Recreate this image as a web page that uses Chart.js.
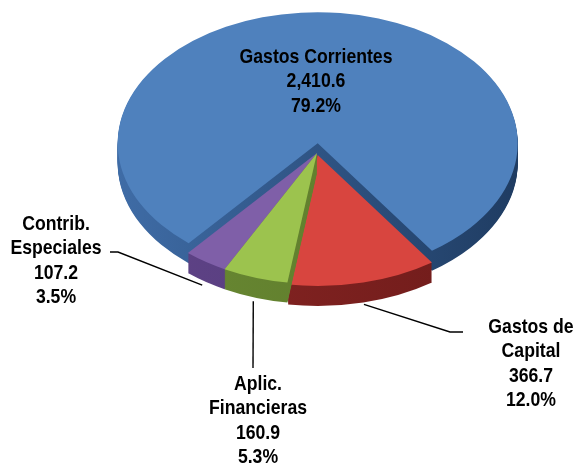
<!DOCTYPE html>
<html><head><meta charset="utf-8">
<script src="https://cdn.jsdelivr.net/npm/chart.js@4/dist/chart.umd.min.js"></script>
<style>html,body{margin:0;padding:0;background:#fff;}#wrap{width:577px;height:465px;position:relative}</style>
</head><body><div id="wrap"><canvas id="c" width="577" height="465"></canvas></div>
<script>
// ---- data ----
const categories = ['Gastos Corrientes', 'Gastos de Capital', 'Aplic. Financieras', 'Contrib. Especiales'];
const nameLines = [['Gastos Corrientes'], ['Gastos de', 'Capital'], ['Aplic.', 'Financieras'], ['Contrib.', 'Especiales']];
const values = [2410.6, 366.7, 160.9, 107.2];
const valueLabels = ['2,410.6', '366.7', '160.9', '107.2'];
const percentLabels = ['79.2%', '12.0%', '5.3%', '3.5%'];

// ---- style ----
const topColors = ['#4f81bd', '#d8453f', '#9cc34e', '#7f5fa8'];
const sideLeft = ['#3f6ca6', '#8a2624', '#6a8a34', '#5f4387'];
const sideRight = ['#1f3c62', '#6e1b1a', '#5a7628', '#513977'];
const sliceOffsets = [15, 3, 0, 0];
const K = 0.655;      // vertical squash of the pie
const DEPTH = 20;     // thickness in px
const CX = 317, CY = 153;
const drawOrder = [0, 3, 1, 2];

// label layout (screen positions): center x, first baseline, elbow points of leader
const labelLayout = [
  { x: 316, y: 63, leader: null },
  { x: 531, y: 333, leader: [[450, 332], [463, 332]] },
  { x: 258, y: 390, leader: [[253, 368]] },
  { x: 56, y: 230, leader: [[118, 252], [110, 252]] }
];
const LINE_H = 24.3;

function toScreen(p, x, y) { return [CX + (x - p.x), CY + (y - p.y) * K]; }

const pie3d = {
  id: 'pie3d',
  beforeDatasetsDraw(chart) {
    const ctx = chart.ctx;
    const arcs = chart.getDatasetMeta(0).data;
    drawOrder.forEach(i => {
      const a = arcs[i];
      const p = a.getProps(['x', 'y', 'startAngle', 'endAngle', 'outerRadius'], true);
      const off = a.options.offset || 0;
      const mid = (p.startAngle + p.endAngle) / 2;
      const ox = Math.cos(mid) * off, oy = Math.sin(mid) * off;
      const g = ctx.createLinearGradient(CX - p.outerRadius, 0, CX + p.outerRadius, 0);
      g.addColorStop(0, sideLeft[i]);
      g.addColorStop(1, sideRight[i]);
      for (let d = DEPTH; d >= 0; d--) {
        ctx.save();
        ctx.translate(CX, CY + d);
        ctx.scale(1, K);
        ctx.translate(-p.x, -p.y);
        ctx.beginPath();
        ctx.moveTo(p.x + ox, p.y + oy);
        ctx.arc(p.x + ox, p.y + oy, p.outerRadius, p.startAngle, p.endAngle);
        ctx.closePath();
        ctx.restore();
        ctx.fillStyle = d === 0 ? topColors[i] : g;
        ctx.fill();
      }
    });
    return false;
  }
};

let fontSpec = null;
function pickFont(ctx) {
  if (fontSpec) return fontSpec;
  ctx.font = 'bold 21px "Liberation Sans Narrow", monospace';
  const w1 = ctx.measureText('Gastos Corrientes').width;
  ctx.font = 'bold 21px monospace';
  const w2 = ctx.measureText('Gastos Corrientes').width;
  if (Math.abs(w1 - w2) > 0.5) fontSpec = { font: 'bold 21px "Liberation Sans Narrow"', sx: 1.02 };
  else fontSpec = { font: 'bold 21px "Liberation Sans", Arial, sans-serif', sx: 0.84 };
  return fontSpec;
}

const labels = {
  id: 'labels3d',
  afterDraw(chart) {
    const ctx = chart.ctx;
    const arcs = chart.getDatasetMeta(0).data;
    const fs = pickFont(ctx);
    arcs.forEach((a, i) => {
      const L = labelLayout[i];
      const p = a.getProps(['x', 'y', 'startAngle', 'endAngle', 'outerRadius'], true);
      if (L.leader) {
        const mid = (p.startAngle + p.endAngle) / 2;
        const r = p.outerRadius + 6;
        const s = toScreen(p, p.x + Math.cos(mid) * r, p.y + Math.sin(mid) * r);
        ctx.save();
        ctx.strokeStyle = '#000';
        ctx.lineWidth = 1.4;
        ctx.beginPath();
        ctx.moveTo(s[0], s[1] + DEPTH);
        L.leader.forEach(q => ctx.lineTo(q[0], q[1]));
        ctx.stroke();
        ctx.restore();
      }
      const lines = nameLines[i].concat([valueLabels[i], percentLabels[i]]);
      ctx.save();
      ctx.font = fs.font;
      ctx.fillStyle = '#000';
      ctx.textAlign = 'center';
      ctx.textBaseline = 'alphabetic';
      lines.forEach((t, j) => {
        ctx.save();
        ctx.translate(L.x, L.y + j * LINE_H);
        ctx.scale(fs.sx, 1);
        ctx.fillText(t, 0, 0);
        ctx.restore();
      });
      ctx.restore();
    });
  }
};

new Chart(document.getElementById('c'), {
  type: 'pie',
  data: {
    labels: categories,
    datasets: [{ data: values, backgroundColor: topColors, borderWidth: 0, offset: sliceOffsets }]
  },
  options: {
    responsive: false,
    animation: false,
    events: [],
    rotation: 220.2,
    radius: 200,
    layout: { padding: 0 },
    plugins: { legend: { display: false }, tooltip: { enabled: false } }
  },
  plugins: [pie3d, labels]
});
</script>
</body></html>
